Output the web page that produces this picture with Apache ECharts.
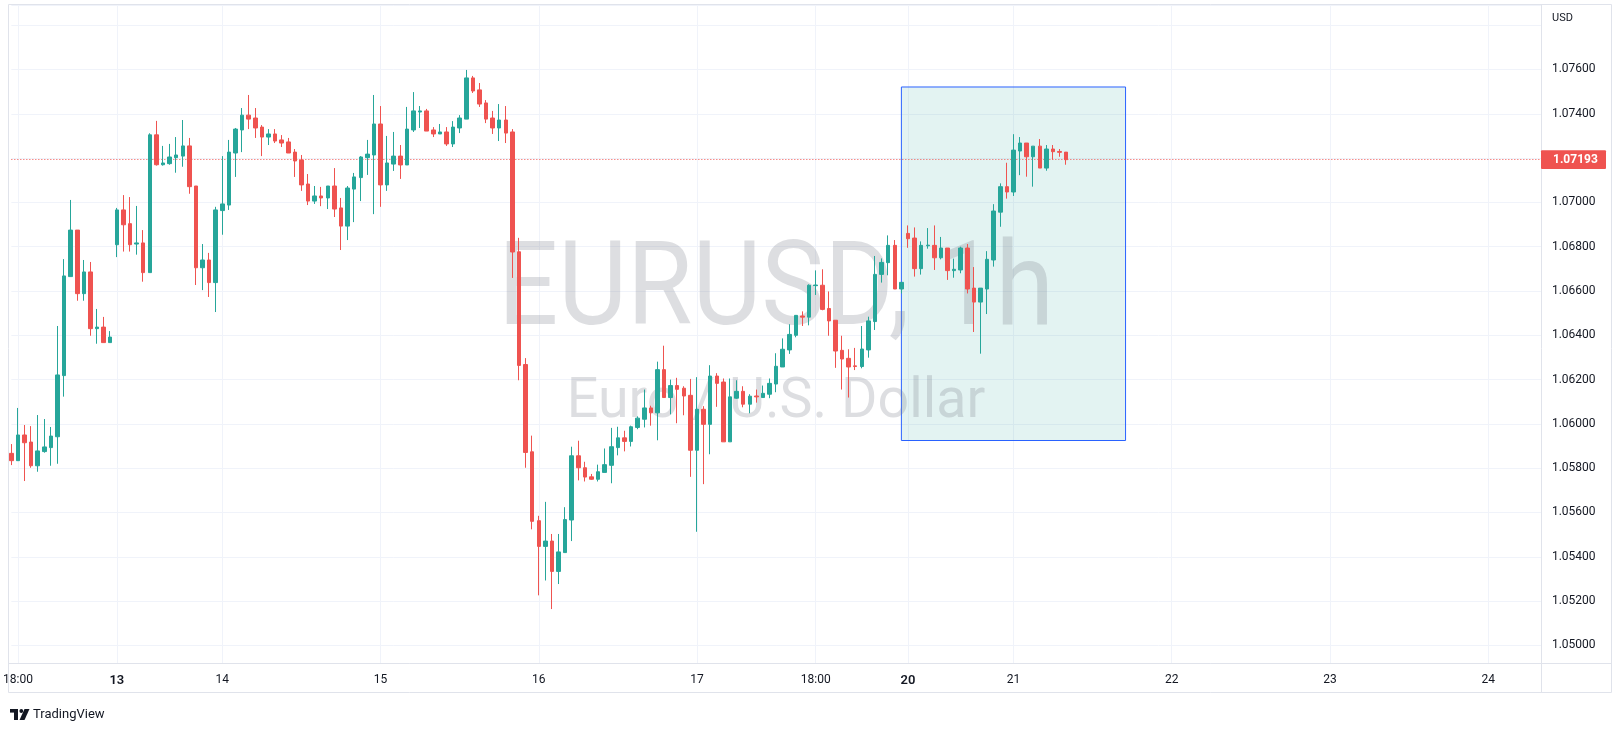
<!DOCTYPE html>
<html>
<head>
<meta charset="utf-8">
<script src="https://cdn.jsdelivr.net/npm/echarts@6/dist/echarts.min.js"></script>
<style>
html,body{margin:0;padding:0;background:#ffffff;}
#chart{width:1622px;height:733px;}
</style>
</head>
<body>
<div id="chart"></div>
<script>
// ---- data (EURUSD, 1h) ----
const opens = [
1.05867,1.05834,1.05950,1.05918,1.05811,1.05875,1.05893,1.05942,1.06218,1.06665,
1.06875,1.06588,1.06686,1.06430,1.06437,1.06367,1.06809,1.06966,1.06904,1.06812,
1.06817,1.06683,1.07305,1.07170,1.07175,1.07202,1.07209,1.07255,1.07074,1.06705,
1.06740,1.06638,1.06963,1.06988,1.07223,1.07327,1.07394,1.07381,1.07340,1.07295,
1.07309,1.07282,1.07273,1.07227,1.07191,1.07083,1.07006,1.07029,1.07020,1.07074,
1.06975,1.06893,1.07060,1.07112,1.07202,1.07214,1.07354,1.07079,1.07173,1.07209,
1.07169,1.07327,1.07408,1.07413,1.07327,1.07309,1.07318,1.07264,1.07336,1.07376,
1.07562,1.07508,1.07449,1.07381,1.07336,1.07372,1.07318,1.06777,1.06268,1.05874,
1.05563,1.05447,1.05471,1.05334,1.05419,1.05566,1.05856,1.05802,1.05761,1.05750,
1.05781,1.05813,1.05893,1.05937,1.05921,1.05984,1.06021,1.06072,1.06050,1.06245,
1.06119,1.06173,1.06161,1.06129,1.05881,1.06066,1.05998,1.06216,1.06189,1.05919,
1.06116,1.06147,1.06089,1.06126,1.06119,1.06134,1.06180,1.06257,1.06334,1.06400,
1.06487,1.06482,1.06624,1.06626,1.06521,1.06468,1.06332,1.06296,1.06262,1.06259,
1.06334,1.06462,1.06675,1.06728,1.06806,1.06609,1.06860,1.06839,1.06701,1.06804,
1.06806,1.06750,1.06794,1.06692,1.06695,1.06794,1.06613,1.06550,1.06609,1.06740,
1.06956,1.07071,1.07047,1.07232,1.07268,1.07206,1.07254,1.07155,1.07241,1.07230,
1.07227
];
const closes = [
1.05834,1.05950,1.05915,1.05811,1.05878,1.05896,1.05945,1.06221,1.06668,1.06875,
1.06588,1.06686,1.06430,1.06437,1.06367,1.06392,1.06966,1.06899,1.06809,1.06817,
1.06683,1.07305,1.07170,1.07178,1.07205,1.07214,1.07255,1.07071,1.06705,1.06740,
1.06638,1.06966,1.06993,1.07227,1.07331,1.07394,1.07376,1.07336,1.07295,1.07309,
1.07277,1.07268,1.07223,1.07187,1.07079,1.07006,1.07029,1.07020,1.07074,1.06970,
1.06893,1.07065,1.07115,1.07205,1.07218,1.07354,1.07079,1.07178,1.07209,1.07169,
1.07331,1.07413,1.07413,1.07322,1.07309,1.07318,1.07264,1.07340,1.07381,1.07562,
1.07503,1.07444,1.07376,1.07336,1.07372,1.07313,1.06776,1.06264,1.05871,1.05560,
1.05447,1.05471,1.05334,1.05422,1.05568,1.05856,1.05802,1.05760,1.05750,1.05784,
1.05816,1.05897,1.05937,1.05921,1.05987,1.06026,1.06072,1.06050,1.06245,1.06119,
1.06173,1.06156,1.06126,1.05881,1.06066,1.05998,1.06216,1.06183,1.05919,1.06122,
1.06147,1.06089,1.06125,1.06122,1.06138,1.06183,1.06260,1.06337,1.06404,1.06490,
1.06482,1.06626,1.06627,1.06517,1.06465,1.06329,1.06293,1.06257,1.06259,1.06338,
1.06465,1.06675,1.06729,1.06806,1.06609,1.06639,1.06836,1.06701,1.06806,1.06807,
1.06750,1.06794,1.06692,1.06698,1.06794,1.06609,1.06550,1.06613,1.06743,1.06961,
1.07071,1.07047,1.07236,1.07268,1.07206,1.07254,1.07155,1.07241,1.07229,1.07226,
1.07193
];
const lows = [
1.05814,1.05834,1.05742,1.05802,1.05784,1.05870,1.05811,1.05820,1.06123,1.06665,
1.06556,1.06556,1.06398,1.06362,1.06367,1.06367,1.06753,1.06778,1.06778,1.06764,
1.06642,1.06683,1.07166,1.07166,1.07170,1.07134,1.07161,1.07039,1.06627,1.06604,
1.06573,1.06505,1.06854,1.06966,1.07115,1.07227,1.07331,1.07291,1.07209,1.07259,
1.07268,1.07250,1.07223,1.07115,1.07052,1.06988,1.06993,1.06983,1.06970,1.06934,
1.06785,1.06830,1.06911,1.07006,1.07124,1.06947,1.06980,1.07052,1.07142,1.07106,
1.07169,1.07318,1.07336,1.07322,1.07295,1.07309,1.07255,1.07250,1.07313,1.07376,
1.07494,1.07431,1.07358,1.07309,1.07277,1.07268,1.06659,1.06197,1.05802,1.05524,
1.05226,1.05293,1.05164,1.05277,1.05419,1.05471,1.05745,1.05740,1.05747,1.05740,
1.05781,1.05732,1.05858,1.05876,1.05898,1.05976,1.05984,1.05992,1.05926,1.06119,
1.06043,1.06003,1.06039,1.05761,1.05513,1.05728,1.05863,1.06077,1.05919,1.05919,
1.06113,1.06075,1.06048,1.06096,1.06119,1.06116,1.06143,1.06257,1.06316,1.06391,
1.06442,1.06445,1.06582,1.06513,1.06398,1.06253,1.06155,1.06119,1.06243,1.06251,
1.06299,1.06424,1.06638,1.06671,1.06609,1.06589,1.06795,1.06665,1.06674,1.06791,
1.06695,1.06743,1.06650,1.06660,1.06680,1.06589,1.06415,1.06317,1.06496,1.06710,
1.06890,1.07017,1.07029,1.07123,1.07116,1.07071,1.07155,1.07143,1.07193,1.07206,
1.07170
];
const highs = [
1.05909,1.06072,1.05995,1.05990,1.06040,1.06022,1.05986,1.06442,1.06744,1.07011,
1.06875,1.06740,1.06731,1.06519,1.06483,1.06419,1.06975,1.07033,1.07024,1.06984,
1.06875,1.07312,1.07368,1.07255,1.07264,1.07295,1.07372,1.07291,1.07074,1.06812,
1.06772,1.06980,1.07209,1.07282,1.07336,1.07426,1.07485,1.07426,1.07349,1.07331,
1.07331,1.07304,1.07291,1.07241,1.07214,1.07128,1.07074,1.07070,1.07074,1.07155,
1.07020,1.07074,1.07133,1.07209,1.07282,1.07485,1.07435,1.07300,1.07318,1.07259,
1.07431,1.07498,1.07435,1.07422,1.07340,1.07354,1.07340,1.07367,1.07394,1.07598,
1.07571,1.07539,1.07462,1.07413,1.07444,1.07435,1.07331,1.06840,1.06297,1.05947,
1.05585,1.05648,1.05503,1.05503,1.05624,1.05897,1.05924,1.05829,1.05774,1.05816,
1.05889,1.05982,1.05987,1.05969,1.05992,1.06034,1.06155,1.06082,1.06281,1.06353,
1.06200,1.06208,1.06170,1.06203,1.06211,1.06080,1.06265,1.06229,1.06205,1.06205,
1.06197,1.06170,1.06134,1.06155,1.06173,1.06205,1.06319,1.06386,1.06450,1.06490,
1.06508,1.06630,1.06693,1.06698,1.06598,1.06468,1.06398,1.06337,1.06343,1.06442,
1.06484,1.06758,1.06747,1.06851,1.06830,1.06639,1.06896,1.06887,1.06824,1.06884,
1.06896,1.06844,1.06794,1.06746,1.06800,1.06812,1.06708,1.06613,1.06780,1.06992,
1.07086,1.07179,1.07308,1.07295,1.07268,1.07254,1.07286,1.07259,1.07259,1.07241,
1.07227
];
const totalSlots = 233;                       // hourly slots shown on the time scale (incl. empty future)
const tickIndex  = [1, 16, 32, 56, 80, 104, 122, 136, 152, 176, 200, 224];
const tickLabels = ['18:00', '13', '14', '15', '16', '17', '18:00', '20', '21', '22', '23', '24'];
const weekStartLabels = ['13', '20'];
const lastPrice = 1.07193;
const boxStart = 135, boxEnd = 169, boxTop = 1.07521, boxBottom = 1.05925;
const priceMin = 1.049205, priceMax = 1.078912, priceStep = 0.002;
const currency = 'USD';
const symbolTitle = 'EURUSD, 1h';
const symbolDesc = 'Euro / U.S. Dollar';
const brand = 'TradingView';

// ---- chart ----
const categories = Array.from({length: totalSlots}, (_, i) => 'bar' + i);
const candles = opens.map((o, i) => [o, closes[i], lows[i], highs[i]]);
const UP = '#26a69a', DOWN = '#ef5350', GRID = '#f0f3fa', FRAME = '#e0e3eb', TXT = '#131722';
const isTick = (i) => tickIndex.indexOf(i) >= 0;

const chart = echarts.init(document.getElementById('chart'), null, {renderer: 'canvas'});
chart.setOption({
  animation: false,
  backgroundColor: '#ffffff',
  grid: {left: 9.73, right: 81.1, top: 5, bottom: 70, show: false},
  xAxis: {
    type: 'category', data: categories, boundaryGap: false,
    axisLine: {show: false}, axisTick: {show: false},
    axisLabel: {
      interval: (i) => isTick(i), margin: 11, color: TXT, fontSize: 12, fontFamily: 'Roboto',
      formatter: (v, i) => {
        const k = tickIndex.indexOf(i);
        if (k < 0) return '';
        const t = tickLabels[k];
        return weekStartLabels.indexOf(t) >= 0 ? '{b|' + t + '}' : t;
      },
      rich: {b: {fontSize: 13, fontWeight: 600, color: TXT, fontFamily: 'Roboto'}}
    },
    splitLine: {show: true, interval: (i) => isTick(i), lineStyle: {color: GRID, width: 1}}
  },
  yAxis: {
    type: 'value', position: 'right', min: priceMin, max: priceMax,
    splitNumber: 15, minInterval: priceStep, maxInterval: priceStep,
    axisLine: {show: false}, axisTick: {show: false},
    splitLine: {show: true, lineStyle: {color: GRID, width: 1}},
    axisLabel: {
      margin: 11, color: TXT, fontSize: 12, fontFamily: 'Roboto',
      showMinLabel: false, showMaxLabel: false,
      formatter: (v) => {
        const r = v / priceStep;
        if (Math.abs(r - Math.round(r)) > 1e-6) return '';
        if (v > 1.0775) return '';
        return v.toFixed(5);
      }
    }
  },
  series: [{
    type: 'candlestick', data: candles, barWidth: 4, z: 5,
    itemStyle: {color: UP, color0: DOWN, borderColor: UP, borderColor0: DOWN, borderWidth: 1},
    markLine: {
      silent: true, symbol: ['none', 'none'], label: {show: false}, precision: 5,
      lineStyle: {color: DOWN, width: 1, type: [1, 2]},
      emphasis: {disabled: true},
      data: [{yAxis: lastPrice}]
    },
    markArea: {
      silent: true, label: {show: false},
      itemStyle: {color: 'rgba(38,166,154,0.13)', borderColor: '#2962ff', borderWidth: 1},
      data: [[{xAxis: boxStart, yAxis: boxTop}, {xAxis: boxEnd, yAxis: boxBottom}]]
    }
  }]
});

const py = chart.convertToPixel({yAxisIndex: 0}, lastPrice);
const wm = 'rgba(120,123,134,0.25)';
chart.setOption({
  graphic: [
    {type: 'text', id: 'wm1', x: 776, y: 295, scaleX: 0.915, z: 1, silent: true,
     style: {text: symbolTitle, fontSize: 116, fontFamily: 'Roboto', fill: wm,
             textAlign: 'center', align: 'center', textVerticalAlign: 'middle', verticalAlign: 'middle'}},
    {type: 'text', id: 'wm2', x: 776, y: 403, scaleX: 1.01, z: 1, silent: true,
     style: {text: symbolDesc, fontSize: 55, fontFamily: 'Roboto', fill: wm,
             textAlign: 'center', align: 'center', textVerticalAlign: 'middle', verticalAlign: 'middle'}},
    {type: 'rect', id: 'frame', z: 50, silent: true,
     shape: {x: 8.5, y: 4.5, width: 1603, height: 688}, style: {fill: null, stroke: FRAME, lineWidth: 1}},
    {type: 'line', id: 'psep', z: 50, silent: true,
     shape: {x1: 1541.5, y1: 4.5, x2: 1541.5, y2: 692.5}, style: {stroke: FRAME, lineWidth: 1}},
    {type: 'line', id: 'tsep', z: 50, silent: true,
     shape: {x1: 8.5, y1: 663.5, x2: 1611.5, y2: 663.5}, style: {stroke: FRAME, lineWidth: 1}},
    {type: 'rect', id: 'usdbg', z: 59, silent: true,
     shape: {x: 1543, y: 8, width: 66, height: 20}, style: {fill: '#ffffff'}},
    {type: 'text', id: 'usd', x: 1552, y: 18, z: 60, silent: true,
     style: {text: currency, fontSize: 11, fontFamily: 'Roboto', fill: TXT,
             textAlign: 'left', align: 'left', textVerticalAlign: 'middle', verticalAlign: 'middle'}},
    {type: 'rect', id: 'pbox', z: 60, silent: true,
     shape: {x: 1541, y: py - 9.3, width: 65, height: 18.6, r: 1}, style: {fill: DOWN}},
    {type: 'text', id: 'ptxt', x: 1553, y: py + 0.5, z: 61, silent: true,
     style: {text: lastPrice.toFixed(5), fontSize: 12, fontWeight: 'bold', fontFamily: 'Roboto', fill: '#ffffff',
             textAlign: 'left', align: 'left', textVerticalAlign: 'middle', verticalAlign: 'middle'}},
    {type: 'rect', id: 'lg1', z: 60, silent: true, shape: {x: 10, y: 709, width: 8, height: 3.6}, style: {fill: TXT}},
    {type: 'rect', id: 'lg2', z: 60, silent: true, shape: {x: 14, y: 709, width: 4, height: 11}, style: {fill: TXT}},
    {type: 'circle', id: 'lg3', z: 60, silent: true, shape: {cx: 21.3, cy: 711, r: 1.9}, style: {fill: TXT}},
    {type: 'polygon', id: 'lg4', z: 60, silent: true,
     shape: {points: [[24.5, 709], [29.5, 709], [24.5, 720], [19.5, 720]]}, style: {fill: TXT}},
    {type: 'text', id: 'brand', x: 33, y: 714.5, z: 60, silent: true,
     style: {text: brand, fontSize: 13, fontFamily: 'Roboto', fill: TXT,
             textAlign: 'left', align: 'left', textVerticalAlign: 'middle', verticalAlign: 'middle'}}
  ]
});
</script>
</body>
</html>
